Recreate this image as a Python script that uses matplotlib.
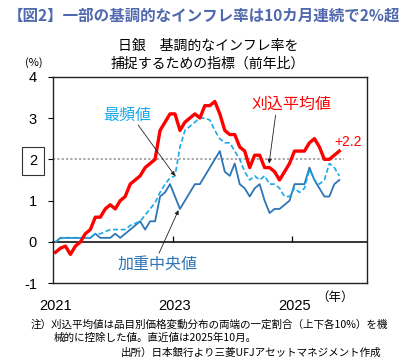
import numpy as np
import pandas as pd
import matplotlib
matplotlib.use('Agg')
import matplotlib.pyplot as plt

plt.rcParams['font.family'] = ['Noto Sans CJK JP', 'DejaVu Sans']

# monthly data, Jan 2021 - Oct 2025 (前年比, %)
months = pd.period_range('2021-01', '2025-10', freq='M')
trimmed_mean = [-0.25, -0.15, -0.1, -0.3, -0.1, 0.0, 0.2, 0.3, 0.6, 0.6,
                0.8, 0.9, 0.8, 1.0, 1.1, 1.4, 1.5, 1.6, 1.8, 1.9,
                2.0, 2.7, 2.9, 3.1, 3.1, 2.7, 2.9, 3.0, 3.1, 3.0,
                3.3, 3.3, 3.4, 3.1, 2.7, 2.6, 2.6, 2.3, 2.2, 1.8,
                2.1, 2.1, 1.8, 1.8, 1.7, 1.5, 1.7, 1.9, 2.2, 2.2,
                2.2, 2.4, 2.5, 2.3, 2.0, 2.0, 2.1, 2.2]
mode = [0.0, 0.1, 0.1, 0.1, 0.1, 0.1, 0.1, 0.1, 0.2, 0.2,
        0.25, 0.3, 0.3, 0.3, 0.3, 0.4, 0.45, 0.5, 0.65, 0.8,
        0.95, 1.2, 1.4, 1.55, 1.6, 2.3, 2.7, 2.8, 2.9, 3.0,
        3.0, 2.95, 2.7, 2.5, 2.4, 2.4, 2.2, 2.0, 1.7, 1.5,
        1.6, 1.5, 1.6, 1.4, 1.4, 1.3, 1.1, 1.1, 1.3, 1.2,
        1.3, 1.75, 1.5, 1.4, 1.5, 1.9, 1.8, 1.6]
weighted_median = [0.0, 0.1, 0.1, 0.1, 0.1, 0.1, 0.1, 0.1, 0.2, 0.1,
                   0.1, 0.1, 0.2, 0.1, 0.2, 0.3, 0.4, 0.5, 0.3, 0.5,
                   0.5, 1.1, 1.2, 1.4, 1.1, 0.8, 1.0, 1.2, 1.4, 1.4,
                   1.6, 1.8, 2.0, 2.2, 1.7, 1.6, 1.9, 1.4, 1.3, 1.1,
                   1.3, 1.4, 1.0, 0.7, 0.8, 0.8, 0.9, 1.0, 1.4, 1.4,
                   1.4, 1.8, 1.5, 1.3, 1.1, 1.1, 1.4, 1.5]
target = 2
year_labels = ['2021', '2023', '2025']
y_ticks = [-1, 0, 1, 2, 3, 4]

RED = '#FF0000'
LIGHT = '#1AA9EA'
DARK = '#2E75B6'
NUM = ['Liberation Sans', 'DejaVu Sans']

W, H = 406, 361
fig = plt.figure(figsize=(W / 100, H / 100), dpi=100)
ax = fig.add_axes([53 / W, 1 - 283.3 / H, (366.7 - 53) / W, (283.3 - 76.7) / H])

x = np.arange(len(months)) + 0.5
n_cat = 63

ax.hlines(target, 0, len(months) + 0.4, colors='#A0A0A0', linestyles=(0, (1.2, 1.2)), lw=1.3)
ax.plot(x, weighted_median, color=DARK, lw=1.3)
ax.plot(x, mode, color=LIGHT, lw=1.2, ls=(0, (3, 1.6)))
ax.plot(x, trimmed_mean, color=RED, lw=2.4)

ax.set_xlim(0, n_cat)
ax.set_ylim(y_ticks[0], y_ticks[-1])

# year labels under the frame, ticks on the zero line
yr_idx = [i for i, m in enumerate(months) if m.month == 1 and m.year in (2021, 2023, 2025)]
ax.set_xticks(x[yr_idx], year_labels, fontsize=10.5, family=NUM)
ax.tick_params(axis='x', length=0, pad=11)
zero_loc = (0 - y_ticks[0]) / (y_ticks[-1] - y_ticks[0])
zax = ax.secondary_xaxis(zero_loc)
zax.set_xticks([i for i, m in enumerate(months) if m.month == 1 and m.year in (2023, 2025)])
zax.tick_params(direction='in', length=4, width=0.9, labelbottom=False)
zax.spines['bottom'].set_linewidth(1.1)

ax.set_yticks(y_ticks, [str(v) for v in y_ticks], fontsize=10.5, family=NUM)
ax.tick_params(axis='y', direction='out', length=3.5, width=0.8, pad=8)
for lab in ax.get_yticklabels():
    if lab.get_text() == str(target):
        lab.set_bbox(dict(boxstyle='square,pad=0.5', fc='white', ec='#333333', lw=0.8))
for s in ax.spines.values():
    s.set_linewidth(1.0)
    s.set_color('#222222')

# series labels with arrows
arw = dict(arrowstyle='-|>', color='#222222', lw=0.6, mutation_scale=6, shrinkA=0, shrinkB=0)
ax.text(14.9, 3.07, '最頻値', color=LIGHT, fontsize=11.5, ha='center', va='center')
ax.annotate('', xy=(x[24], mode[24]), xytext=(17.1, 2.83), arrowprops=arw)
ax.text(47.9, 3.34, '刈込平均値', color=RED, fontsize=11.5, ha='center', va='center')
ax.annotate('', xy=(x[43] - 0.1, trimmed_mean[43] + 0.1), xytext=(44.7, 3.07), arrowprops=arw)
ax.text(20.9, -0.53, '加重中央値', color=DARK, fontsize=11.5, ha='center', va='center')
ax.annotate('', xy=(x[25] - 0.3, weighted_median[25] - 0.03), xytext=(21.3, -0.27), arrowprops=arw)
ax.text(56.5, 2.42, '+%.1f' % trimmed_mean[-1], color=RED, fontsize=10, ha='left', va='center', family=NUM)

fig.text(8 / W, 1 - 16 / H, '【図2】一部の基調的なインフレ率は10カ月連続で2%超',
         fontsize=11.2, fontweight='bold', color='#5068AE', ha='left', va='center')
fig.text(208 / W, 1 - 46 / H, '日銀　基調的なインフレ率を', fontsize=10, ha='center', va='center')
fig.text(208 / W, 1 - 64 / H, '捕捉するための指標（前年比）', fontsize=10, ha='center', va='center')
fig.text(34 / W, 1 - 63 / H, '(%)', fontsize=8, ha='center', va='center')
fig.text(335 / W, 1 - 297 / H, '（年）', fontsize=9, ha='center', va='center')

fig.text(31 / W, 1 - 325 / H, '注）刈込平均値は品目別価格変動分布の両端の一定割合（上下各10%）を機',
         fontsize=7.6, ha='left', va='center')
fig.text(54 / W, 1 - 338 / H, '械的に控除した値。直近値は2025年10月。', fontsize=7.6, ha='left', va='center')
fig.text(381 / W, 1 - 353 / H, '出所）日本銀行より三菱UFJアセットマネジメント作成',
         fontsize=7.6, ha='right', va='center')

fig.savefig('out.png', dpi=100)
